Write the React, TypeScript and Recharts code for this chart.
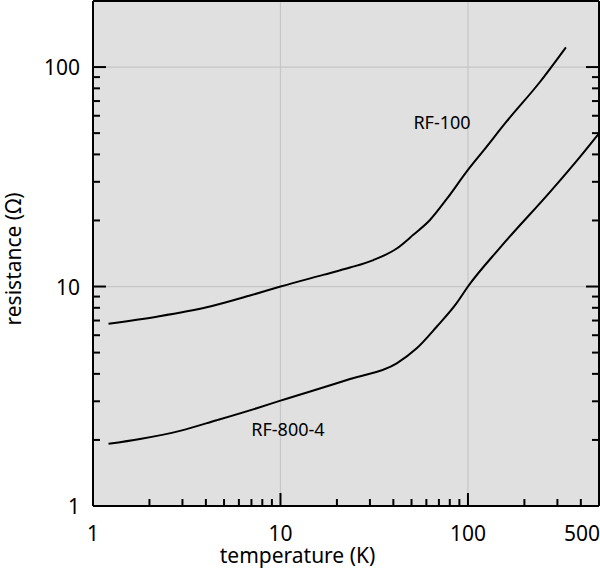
import React from 'react';
import { LineChart, Line, XAxis, YAxis, CartesianGrid, ReferenceLine, ReferenceDot } from 'recharts';

const tempRF100 = [1.21, 2.19, 4.04, 6.88, 10, 16.9, 23.5, 31.3, 41.7, 51.1, 62.7, 76.9, 100, 120.7, 160.8, 242, 333];
const resRF100 = [6.77, 7.29, 8.04, 9.1, 10, 11.3, 12.2, 13.2, 14.9, 17.2, 20.1, 25, 34, 41.5, 56.5, 85.5, 123];

const tempRF800 = [1.21, 1.78, 2.91, 4.57, 7.47, 10, 23.5, 41.7, 53.3, 68.1, 87, 100, 148, 279.5, 396, 500];
const resRF800 = [1.92, 2.02, 2.2, 2.46, 2.79, 3.02, 3.79, 4.47, 5.23, 6.56, 8.4, 10, 15.0, 27.5, 39, 49.9];

const xTicks = [1, 2, 3, 4, 5, 6, 7, 8, 9, 10, 20, 30, 40, 50, 60, 70, 80, 90, 100, 200, 300, 400, 500];
const xLabels = [1, 10, 100, 500];
const xMajor = [10, 100];
const xEdge = [1, 500];

const yTicks = [1, 2, 3, 4, 5, 6, 7, 8, 9, 10, 20, 30, 40, 50, 60, 70, 80, 90, 100];
const yLabels = [1, 10, 100];
const yMajor = [10, 100];
const yEdge = [1];

const gridX = [10, 100];
const gridY = [10, 100];

const curveNames = ['RF-100', 'RF-800-4'];
const curveLabelT = [72.7, 10.96];
const curveLabelR = [56.1, 2.22];

const rf100 = tempRF100.map((t, i) => ({ t, r: resRF100[i] }));
const rf800 = tempRF800.map((t, i) => ({ t, r: resRF800[i] }));

const FONT = '"Noto Sans", sans-serif';
const TICK_FONT = 21;

const tickLen = (v: number, major: number[], edge: number[]) =>
  major.includes(v) ? 13 : edge.includes(v) ? 0 : 7;

const BottomTick = (props: any) => {
  const { x, y, payload } = props;
  const v = payload.value;
  const len = tickLen(v, xMajor, xEdge);
  const isLast = v === xLabels[xLabels.length - 1];
  return (
    <g>
      {len > 0 && <line x1={x} y1={y} x2={x} y2={y - len} stroke="#000" strokeWidth={2} />}
      {xLabels.includes(v) && (
        <text x={isLast ? x + 1 : x} y={y + 35} textAnchor={isLast ? 'end' : 'middle'} fontSize={TICK_FONT} fill="#000" fontFamily={FONT}>
          {v}
        </text>
      )}
    </g>
  );
};

const TopTick = (props: any) => {
  const { x, y, payload } = props;
  const len = tickLen(payload.value, xMajor, xEdge);
  return len > 0 ? <line x1={x} y1={y} x2={x} y2={y + len} stroke="#000" strokeWidth={2} /> : <g />;
};

const LeftTick = (props: any) => {
  const { x, y, payload } = props;
  const v = payload.value;
  const len = tickLen(v, yMajor, yEdge);
  return (
    <g>
      {len > 0 && <line x1={x} y1={y} x2={x + len} y2={y} stroke="#000" strokeWidth={2} />}
      {yLabels.includes(v) && (
        <text x={x - 13} y={y + 8} textAnchor="end" fontSize={TICK_FONT} fill="#000" fontFamily={FONT}>
          {v}
        </text>
      )}
    </g>
  );
};

const RightTick = (props: any) => {
  const { x, y, payload } = props;
  const len = tickLen(payload.value, yMajor, yEdge);
  return len > 0 ? <line x1={x} y1={y} x2={x - len} y2={y} stroke="#000" strokeWidth={2} /> : <g />;
};

const XTitle = (props: any) => {
  const vb = props.viewBox;
  return (
    <text x={vb.x + vb.width / 2 - 48.5} y={vb.y + 57} textAnchor="middle" fontSize={TICK_FONT} fill="#000" fontFamily={FONT}>
      temperature (K)
    </text>
  );
};

const YTitle = (props: any) => {
  const vb = props.viewBox;
  const cx = vb.x + 20.5;
  const cy = vb.y + vb.height / 2 + 5.5;
  return (
    <text x={cx} y={cy} transform={`rotate(-90 ${cx} ${cy})`} textAnchor="middle" fontSize={TICK_FONT} fill="#000" fontFamily={FONT}>
      resistance (Ω)
    </text>
  );
};

const axisLine = { stroke: '#000', strokeWidth: 2 };

export default function App() {
  return (
    <div style={{ position: 'absolute', left: 0, top: 0 }}>
      <LineChart width={600} height={570} margin={{ top: 0, right: 0, bottom: 0, left: 0 }} style={{ fontFamily: FONT }}>
        <CartesianGrid fill="#e0e0e0" fillOpacity={1} horizontal={false} vertical={false} stroke="none" />
        <XAxis
          dataKey="t"
          type="number"
          scale="log"
          domain={[1, 500]}
          allowDataOverflow
          ticks={xTicks}
          interval={0}
          tick={<BottomTick />}
          tickLine={false}
          tickSize={0}
          tickMargin={0}
          axisLine={axisLine}
          height={64}
          label={{ content: XTitle }}
        />
        <XAxis
          xAxisId="top"
          orientation="top"
          type="number"
          scale="log"
          domain={[1, 500]}
          allowDataOverflow
          ticks={xTicks}
          interval={0}
          tick={<TopTick />}
          tickLine={false}
          tickSize={0}
          tickMargin={0}
          axisLine={axisLine}
          height={1}
        />
        <YAxis
          type="number"
          scale="log"
          domain={[1, 200]}
          allowDataOverflow
          ticks={yTicks}
          interval={0}
          tick={<LeftTick />}
          tickLine={false}
          tickSize={0}
          tickMargin={0}
          axisLine={axisLine}
          width={93}
          label={{ content: YTitle }}
        />
        <YAxis
          yAxisId="right"
          orientation="right"
          type="number"
          scale="log"
          domain={[1, 200]}
          allowDataOverflow
          ticks={yTicks}
          interval={0}
          tick={<RightTick />}
          tickLine={false}
          tickSize={0}
          tickMargin={0}
          axisLine={axisLine}
          width={1}
        />
        {gridX.map((v) => (
          <ReferenceLine key={'gx' + v} x={v} stroke="#c6c6c6" strokeWidth={1.2} />
        ))}
        {gridY.map((v) => (
          <ReferenceLine key={'gy' + v} y={v} stroke="#c6c6c6" strokeWidth={1.2} />
        ))}
        <Line data={rf100} dataKey="r" type="monotone" stroke="#000" strokeWidth={2} dot={false} isAnimationActive={false} />
        <Line data={rf800} dataKey="r" type="monotone" stroke="#000" strokeWidth={2} dot={false} isAnimationActive={false} />
        {curveNames.map((n, i) => (
          <ReferenceDot
            key={n}
            x={curveLabelT[i]}
            y={curveLabelR[i]}
            r={0}
            fill="none"
            stroke="none"
            label={{ value: n, position: 'center', fontSize: 18, fill: '#000', fontFamily: FONT }}
          />
        ))}
      </LineChart>
    </div>
  );
}
